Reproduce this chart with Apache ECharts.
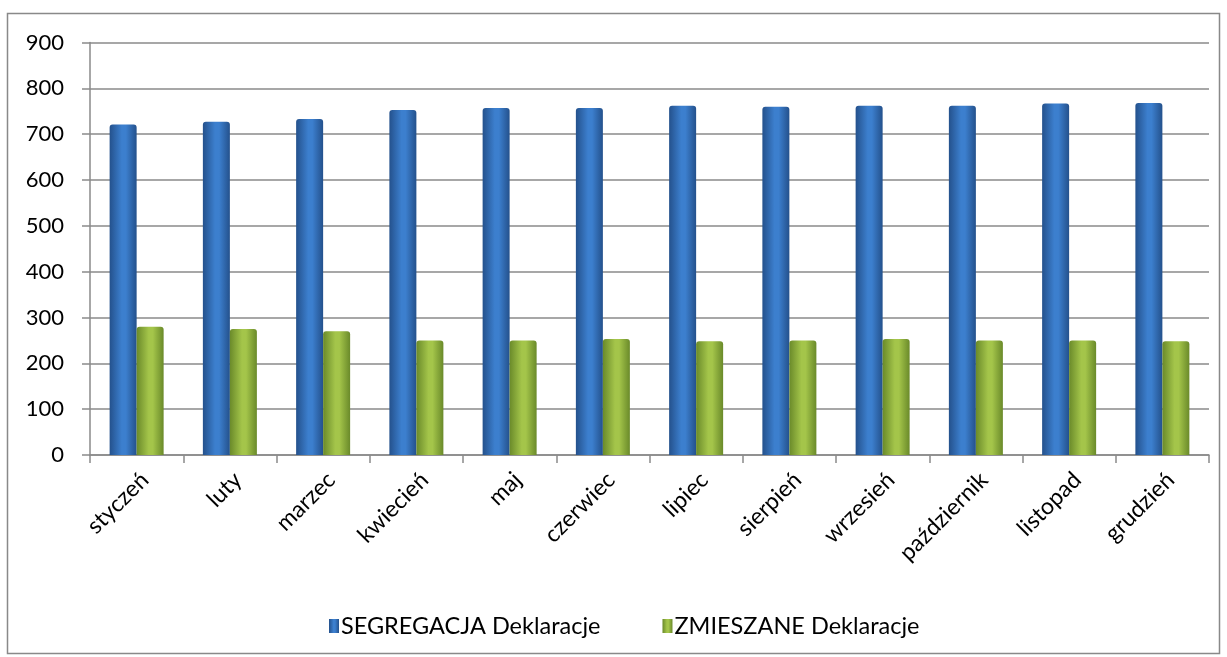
<!DOCTYPE html>
<html><head><meta charset="utf-8">
<script src="https://cdn.jsdelivr.net/npm/echarts@6/dist/echarts.min.js"></script>
<style>html,body{margin:0;padding:0;background:#fff}#c{width:1227px;height:657px}</style>
</head><body><div id="c"></div>
<script>
const categories = ['styczeń','luty','marzec','kwiecień','maj','czerwiec','lipiec','sierpień','wrzesień','październik','listopad','grudzień'];
const segregacja = [721, 727, 733, 753, 757, 757, 762, 760, 762, 762, 767, 768];
const zmieszane = [280, 275, 270, 250, 250, 253, 248, 250, 253, 250, 250, 248];
const yTicks = [0, 100, 200, 300, 400, 500, 600, 700, 800, 900];

const FONT = 'Lato, sans-serif';
const chart = echarts.init(document.getElementById('c'));
function grad(edge, mid){
  return new echarts.graphic.LinearGradient(0,0,1,0,[
    {offset:0,color:edge},{offset:0.45,color:mid},{offset:0.6,color:mid},{offset:1,color:edge}]);
}
chart.setOption({
  animation:false,
  textStyle:{fontFamily:FONT},
  graphic:[{type:'rect',shape:{x:7.5,y:13.5,width:1212,height:640},style:{fill:'none',stroke:'#898989',lineWidth:1.5},silent:true,z:-1}],
  grid:{left:90,right:18,top:42.5,bottom:202,containLabel:false},
  legend:{
    top:609, left:324, itemWidth:10, itemHeight:14, itemGap:62, icon:'rect',
    textStyle:{fontSize:23.5, color:'#000', fontFamily:FONT, padding:[0,0,0,-3]},
    data:['SEGREGACJA Deklaracje','ZMIESZANE Deklaracje']
  },
  xAxis:{
    type:'category', data:categories,
    axisLine:{lineStyle:{color:'#8a8a8a',width:1.5}},
    axisTick:{show:true,length:8,lineStyle:{color:'#8a8a8a',width:1.5},alignWithLabel:false},
    axisLabel:{rotate:45,fontSize:23,color:'#000',margin:13,interval:0,fontFamily:FONT,verticalAlign:'top'}
  },
  yAxis:{
    type:'value', min:0, max:900, interval:100,
    axisLine:{show:true,lineStyle:{color:'#8a8a8a',width:1.5}},
    axisTick:{show:true,length:8,inside:false,lineStyle:{color:'#8a8a8a',width:1.5}},
    splitLine:{lineStyle:{color:'#8a8a8a',width:1.5}},
    axisLabel:{fontSize:22,color:'#000',margin:26,fontFamily:FONT,
      formatter:function(v){return yTicks.indexOf(v)>=0?String(v):'';}}
  },
  series:[
    {name:'SEGREGACJA Deklaracje',type:'bar',data:segregacja,barWidth:27,barGap:'0%',
     itemStyle:{color:grad('#24518c','#3c7fce'),borderRadius:[3,3,0,0]}},
    {name:'ZMIESZANE Deklaracje',type:'bar',data:zmieszane,barWidth:27,
     itemStyle:{color:grad('#6a8a2a','#a4c54a'),borderRadius:[3,3,0,0]}}
  ]
});
</script></body></html>
